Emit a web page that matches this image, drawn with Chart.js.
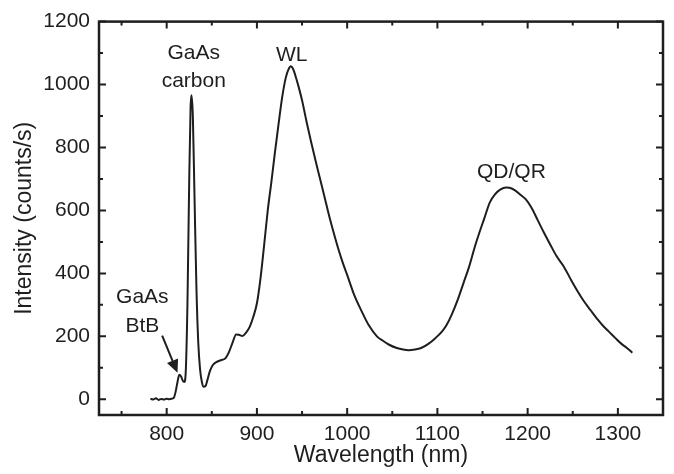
<!DOCTYPE html>
<html>
<head>
<meta charset="utf-8">
<script src="https://cdn.jsdelivr.net/npm/chart.js@4.4.1/dist/chart.umd.min.js"></script>
<style>
  html, body { margin: 0; padding: 0; background: #fff; }
  #wrap { width: 674px; height: 474px; }
</style>
</head>
<body>
<div id="wrap"><canvas id="plChart" width="674" height="474"></canvas></div>
<script>
// PL spectrum: wavelength (nm) and intensity (counts/s)
const wavelength = [
  782, 785, 788, 791, 794, 797, 800, 803, 806, 808,
  810, 812, 814, 816, 818, 819.5, 821, 823, 825, 826.5,
  827.5, 829, 831, 833, 835, 837, 839, 841, 843, 845,
  848, 851, 855, 860, 865, 869, 873, 877, 880, 884,
  888, 892, 896, 900, 904, 908, 912, 916, 920, 924,
  928, 932, 935, 937.5, 940, 943, 946, 950, 955, 960,
  965, 970, 975, 980, 985, 990, 995, 1000, 1008, 1016,
  1024, 1033, 1040, 1046, 1055, 1062, 1068, 1075, 1082, 1090,
  1098, 1105, 1110, 1116, 1123, 1129, 1135, 1141, 1146, 1152,
  1158, 1164, 1170, 1176, 1180, 1186, 1192, 1198, 1204, 1211,
  1218, 1225, 1232, 1240, 1248, 1255, 1262, 1270, 1278, 1284,
  1290, 1297, 1304, 1310, 1316
];
const intensity = [
  2, -1, 3, -2, 1, -1, 2, 0, 2, 5,
  25, 55, 78, 72, 58, 55, 80, 300, 700, 930,
  966, 900, 620, 350, 180, 95, 55, 40, 42, 60,
  90, 108, 118, 124, 130, 150, 180, 206, 205, 201,
  212, 230, 262, 305, 385, 490, 600, 690, 785, 875,
  960, 1022, 1048, 1058, 1050, 1025, 995, 950, 882, 818,
  758, 700, 642, 583, 530, 480, 435, 395, 330, 280,
  235, 200, 185, 174, 163, 158, 156, 158, 163, 176,
  195, 215, 235, 270, 320, 370, 420, 480, 525, 575,
  625, 652, 667, 673, 672, 664, 650, 635, 610, 570,
  530, 492, 455, 422, 380, 345, 313, 282, 252, 232,
  215, 195, 176, 163, 148
];

const xTicks = [800, 900, 1000, 1100, 1200, 1300];
const yTicks = [0, 200, 400, 600, 800, 1000, 1200];
const xMinor = [750, 850, 950, 1050, 1150, 1250];
const yMinor = [100, 300, 500, 700, 900, 1100];

// peak labels, placed in data units
const peakLabels = [
  { lines: ['GaAs', 'carbon'], x: 830, y: 1100, step: 88 },
  { lines: ['WL'], x: 938.5, y: 1094, step: 0 },
  { lines: ['QD/QR'], x: 1182, y: 720, step: 0 },
  { lines: ['GaAs', 'BtB'], x: 773, y: 323, step: 92 }
];
const arrowFrom = { x: 795, y: 202 };
const arrowTo = { x: 812, y: 84 };

const ink = '#1e1e1e';
const fontFamily = '"Liberation Sans", Arial, sans-serif';

const framePlugin = {
  id: 'frame',
  afterDatasetsDraw(chart) {
    const { ctx, chartArea: a, scales } = chart;
    const xs = scales.x, ys = scales.y;
    ctx.save();
    ctx.strokeStyle = ink;
    ctx.lineWidth = 2.5;
    ctx.strokeRect(a.left, a.top, a.right - a.left, a.bottom - a.top);

    // inward ticks on all four sides
    ctx.lineWidth = 2;
    const tick = (vals, len) => {
      vals.forEach(v => {
        const px = xs.getPixelForValue(v);
        ctx.beginPath();
        ctx.moveTo(px, a.bottom); ctx.lineTo(px, a.bottom - len);
        ctx.moveTo(px, a.top); ctx.lineTo(px, a.top + len);
        ctx.stroke();
      });
    };
    const tickY = (vals, len) => {
      vals.forEach(v => {
        const py = ys.getPixelForValue(v);
        ctx.beginPath();
        ctx.moveTo(a.left, py); ctx.lineTo(a.left + len, py);
        ctx.moveTo(a.right, py); ctx.lineTo(a.right - len, py);
        ctx.stroke();
      });
    };
    tick(xTicks, 7); tick(xMinor, 4);
    tickY(yTicks, 7); tickY(yMinor, 4);

    // labels
    ctx.fillStyle = ink;
    ctx.font = '21px ' + fontFamily;
    ctx.textAlign = 'center';
    ctx.textBaseline = 'middle';
    peakLabels.forEach(l => {
      l.lines.forEach((t, i) => {
        ctx.fillText(t, xs.getPixelForValue(l.x), ys.getPixelForValue(l.y - i * l.step));
      });
    });

    // arrow towards the band-to-band shoulder
    const x0 = xs.getPixelForValue(arrowFrom.x), y0 = ys.getPixelForValue(arrowFrom.y);
    const x1 = xs.getPixelForValue(arrowTo.x), y1 = ys.getPixelForValue(arrowTo.y);
    const ang = Math.atan2(y1 - y0, x1 - x0);
    const head = 13, wing = 6;
    const bx = x1 - head * Math.cos(ang), by = y1 - head * Math.sin(ang);
    ctx.lineWidth = 2;
    ctx.beginPath();
    ctx.moveTo(x0, y0); ctx.lineTo(bx, by);
    ctx.stroke();
    ctx.beginPath();
    ctx.moveTo(x1, y1);
    ctx.lineTo(bx + wing * Math.sin(ang), by - wing * Math.cos(ang));
    ctx.lineTo(bx - wing * Math.sin(ang), by + wing * Math.cos(ang));
    ctx.closePath();
    ctx.fill();
    ctx.restore();
  }
};

const context = document.getElementById('plChart').getContext('2d');

new Chart(context, {
  type: 'line',
  data: {
    datasets: [{
      data: wavelength.map((w, i) => ({ x: w, y: intensity[i] })),
      borderColor: ink,
      borderWidth: 2,
      pointRadius: 0,
      cubicInterpolationMode: 'monotone',
      fill: false
    }]
  },
  options: {
    responsive: false,
    animation: false,
    devicePixelRatio: 1,
    layout: { padding: { left: 0, top: 18, right: 11, bottom: 0 } },
    scales: {
      x: {
        type: 'linear',
        min: 725,
        max: 1350,
        afterBuildTicks: (scale) => { scale.ticks = xTicks.map(v => ({ value: v })); },
        afterFit: (scale) => { scale.height = 59; },
        grid: { display: false, drawTicks: false },
        border: { display: false },
        ticks: {
          color: ink,
          padding: 7,
          font: { size: 21, family: fontFamily },
          callback: (value) => String(value)
        },
        title: {
          display: true,
          text: 'Wavelength (nm)',
          color: ink,
          padding: { top: 0, bottom: 5 },
          font: { size: 23, family: fontFamily }
        }
      },
      y: {
        type: 'linear',
        min: -50,
        max: 1200,
        afterBuildTicks: (scale) => { scale.ticks = yTicks.map(v => ({ value: v })); },
        afterFit: (scale) => { scale.width = 99; },
        grid: { display: false, drawTicks: false },
        border: { display: false },
        ticks: {
          color: ink,
          padding: 9,
          font: { size: 21, family: fontFamily },
          callback: (value) => String(value)
        },
        title: {
          display: true,
          text: 'Intensity (counts/s)',
          color: ink,
          padding: { top: 11, bottom: 0 },
          font: { size: 23, family: fontFamily }
        }
      }
    },
    plugins: {
      legend: { display: false },
      title: { display: false },
      tooltip: { enabled: false }
    }
  },
  plugins: [framePlugin]
});
</script>
</body>
</html>
